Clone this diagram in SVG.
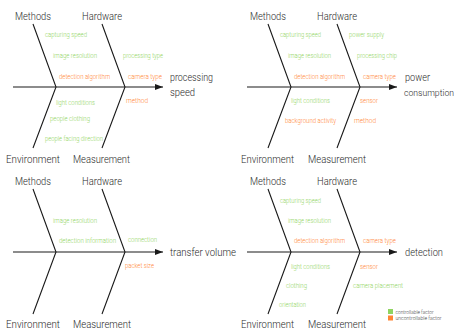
<svg xmlns="http://www.w3.org/2000/svg" width="459" height="334" viewBox="0 0 459 334">
<style>
text{font-family:Roboto,"Open Sans","Liberation Sans",sans-serif;font-weight:300}
.h{font-size:11px;fill:#2a2a2a}
.e{font-size:11px;fill:#2a2a2a}
.f{font-size:6.5px}
.g{fill:#8fd460}
.o{fill:#ff8534}
.lg{font-size:5.5px;fill:#444}
.bone{stroke:#1a1a1a;stroke-width:1.1;fill:none}
</style>
<defs>
<marker id="arr" markerWidth="8" markerHeight="6" refX="8" refY="3" orient="auto" markerUnits="userSpaceOnUse">
<path d="M0,0 L8,3 L0,6 Z" fill="#1a1a1a"/>
</marker>
</defs>
<g id="connectors">
<g id="c-ps">
<path class="bone" d="M13,87 H163" marker-end="url(#arr)"/>
<path class="bone" d="M33,24 L56,87 L33,148"/>
<path class="bone" d="M102,24 L125,87 L102,148"/>
</g>
<g id="c-pc">
<path class="bone" d="M247,87 H397" marker-end="url(#arr)"/>
<path class="bone" d="M268,24 L291,87 L268,148"/>
<path class="bone" d="M337,24 L360,87 L337,148"/>
</g>
<g id="c-tv">
<path class="bone" d="M13,252 H163" marker-end="url(#arr)"/>
<path class="bone" d="M33,189 L56,252 L33,314"/>
<path class="bone" d="M102,189 L125,252 L102,314"/>
</g>
<g id="c-dt">
<path class="bone" d="M247,252 H397" marker-end="url(#arr)"/>
<path class="bone" d="M268,189 L291,252 L268,314"/>
<path class="bone" d="M337,189 L360,252 L337,314"/>
</g>
</g>
<g id="diagram-processing-speed">
<g id="ps-effect"><text class="e" x="170" y="80.5" textLength="43" lengthAdjust="spacingAndGlyphs">processing</text><text class="e" x="170" y="95.5" textLength="25" lengthAdjust="spacingAndGlyphs">speed</text></g>
<g id="ps-methods"><text class="h" x="15" y="19.5" textLength="36" lengthAdjust="spacingAndGlyphs">Methods</text></g>
<g id="ps-hardware"><text class="h" x="82" y="19.5" textLength="40" lengthAdjust="spacingAndGlyphs">Hardware</text></g>
<g id="ps-environment"><text class="h" x="6" y="163" textLength="54" lengthAdjust="spacingAndGlyphs">Environment</text></g>
<g id="ps-measurement"><text class="h" x="73" y="163" textLength="57" lengthAdjust="spacingAndGlyphs">Measurement</text></g>
<g id="ps-factors">
<text class="f g" x="45" y="37.2" textLength="42" lengthAdjust="spacingAndGlyphs">capturing speed</text>
<text class="f g" x="53" y="57.9" textLength="44" lengthAdjust="spacingAndGlyphs">image resolution</text>
<text class="f o" x="59" y="78.9" textLength="51" lengthAdjust="spacingAndGlyphs">detection algorithm</text>
<text class="f g" x="123" y="57.9" textLength="40" lengthAdjust="spacingAndGlyphs">processing type</text>
<text class="f o" x="128" y="78.9" textLength="34" lengthAdjust="spacingAndGlyphs">camera type</text>
<text class="f g" x="56" y="104.9" textLength="39" lengthAdjust="spacingAndGlyphs">light conditions</text>
<text class="f g" x="50" y="121.2" textLength="40" lengthAdjust="spacingAndGlyphs">people clothing</text>
<text class="f g" x="45" y="141.2" textLength="58" lengthAdjust="spacingAndGlyphs">people facing direction</text>
<text class="f o" x="126" y="103.2" textLength="22" lengthAdjust="spacingAndGlyphs">method</text>
</g>
</g>
<g id="diagram-power-consumption">
<g id="pc-effect"><text class="e" x="405" y="80.5" textLength="25" lengthAdjust="spacingAndGlyphs">power</text><text class="e" x="404" y="95.5" style="font-size:9.5px" textLength="50" lengthAdjust="spacingAndGlyphs">consumption</text></g>
<g id="pc-methods"><text class="h" x="250" y="19.5" textLength="36" lengthAdjust="spacingAndGlyphs">Methods</text></g>
<g id="pc-hardware"><text class="h" x="317" y="19.5" textLength="40" lengthAdjust="spacingAndGlyphs">Hardware</text></g>
<g id="pc-environment"><text class="h" x="241" y="163" textLength="53" lengthAdjust="spacingAndGlyphs">Environment</text></g>
<g id="pc-measurement"><text class="h" x="308" y="163" textLength="58" lengthAdjust="spacingAndGlyphs">Measurement</text></g>
<g id="pc-factors">
<text class="f g" x="280" y="37.2" textLength="41" lengthAdjust="spacingAndGlyphs">capturing speed</text>
<text class="f g" x="288" y="57.9" textLength="43" lengthAdjust="spacingAndGlyphs">image resolution</text>
<text class="f o" x="294" y="78.5" textLength="51" lengthAdjust="spacingAndGlyphs">detection algorithm</text>
<text class="f g" x="349" y="37.2" textLength="35" lengthAdjust="spacingAndGlyphs">power supply</text>
<text class="f g" x="357" y="57.9" textLength="40" lengthAdjust="spacingAndGlyphs">processing chip</text>
<text class="f o" x="363" y="78.5" textLength="33" lengthAdjust="spacingAndGlyphs">camera type</text>
<text class="f g" x="291" y="102.9" textLength="39" lengthAdjust="spacingAndGlyphs">light conditions</text>
<text class="f o" x="285" y="123.2" textLength="51" lengthAdjust="spacingAndGlyphs">background activity</text>
<text class="f o" x="360" y="102.9" textLength="18" lengthAdjust="spacingAndGlyphs">sensor</text>
<text class="f o" x="354" y="123.2" textLength="22" lengthAdjust="spacingAndGlyphs">method</text>
</g>
</g>
<g id="diagram-transfer-volume">
<g id="tv-effect"><text class="e" x="170" y="256" textLength="66" lengthAdjust="spacingAndGlyphs">transfer volume</text></g>
<g id="tv-methods"><text class="h" x="15" y="184.5" textLength="36" lengthAdjust="spacingAndGlyphs">Methods</text></g>
<g id="tv-hardware"><text class="h" x="82" y="184.5" textLength="40" lengthAdjust="spacingAndGlyphs">Hardware</text></g>
<g id="tv-environment"><text class="h" x="6" y="328" textLength="54" lengthAdjust="spacingAndGlyphs">Environment</text></g>
<g id="tv-measurement"><text class="h" x="73" y="328" textLength="58" lengthAdjust="spacingAndGlyphs">Measurement</text></g>
<g id="tv-factors">
<text class="f g" x="53" y="222.7" textLength="44" lengthAdjust="spacingAndGlyphs">image resolution</text>
<text class="f g" x="59" y="242.5" textLength="57" lengthAdjust="spacingAndGlyphs">detection information</text>
<text class="f g" x="128" y="242.2" textLength="29" lengthAdjust="spacingAndGlyphs">connection</text>
<text class="f o" x="125" y="268.2" textLength="29" lengthAdjust="spacingAndGlyphs">packet size</text>
</g>
</g>
<g id="diagram-detection">
<g id="dt-effect"><text class="e" x="405" y="256" textLength="38" lengthAdjust="spacingAndGlyphs">detection</text></g>
<g id="dt-methods"><text class="h" x="250" y="184.5" textLength="36" lengthAdjust="spacingAndGlyphs">Methods</text></g>
<g id="dt-hardware"><text class="h" x="317" y="184.5" textLength="40" lengthAdjust="spacingAndGlyphs">Hardware</text></g>
<g id="dt-environment"><text class="h" x="241" y="328" textLength="53" lengthAdjust="spacingAndGlyphs">Environment</text></g>
<g id="dt-measurement"><text class="h" x="308" y="328" textLength="58" lengthAdjust="spacingAndGlyphs">Measurement</text></g>
<g id="dt-factors">
<text class="f g" x="280" y="202.5" textLength="41" lengthAdjust="spacingAndGlyphs">capturing speed</text>
<text class="f g" x="288" y="222.5" textLength="43" lengthAdjust="spacingAndGlyphs">image resolution</text>
<text class="f o" x="294" y="242.5" textLength="51" lengthAdjust="spacingAndGlyphs">detection algorithm</text>
<text class="f o" x="363" y="242.5" textLength="33" lengthAdjust="spacingAndGlyphs">camera type</text>
<text class="f g" x="291" y="268.5" textLength="39" lengthAdjust="spacingAndGlyphs">light conditions</text>
<text class="f g" x="286" y="287.5" textLength="21" lengthAdjust="spacingAndGlyphs">clothing</text>
<text class="f g" x="279" y="306.5" textLength="27" lengthAdjust="spacingAndGlyphs">orientation</text>
<text class="f o" x="360" y="268.5" textLength="18" lengthAdjust="spacingAndGlyphs">sensor</text>
<text class="f g" x="353" y="287.5" textLength="50" lengthAdjust="spacingAndGlyphs">camera placement</text>
</g>
</g>
<g id="legend">
<rect x="388" y="309" width="5" height="5" fill="#8fd460"/>
<text class="lg" x="395.5" y="313.6" textLength="38" lengthAdjust="spacingAndGlyphs">controllable factor</text>
<rect x="388" y="315.5" width="5" height="5" fill="#ff8534"/>
<text class="lg" x="395.5" y="319.8" textLength="46" lengthAdjust="spacingAndGlyphs">uncontrollable factor</text>
</g>
</svg>
